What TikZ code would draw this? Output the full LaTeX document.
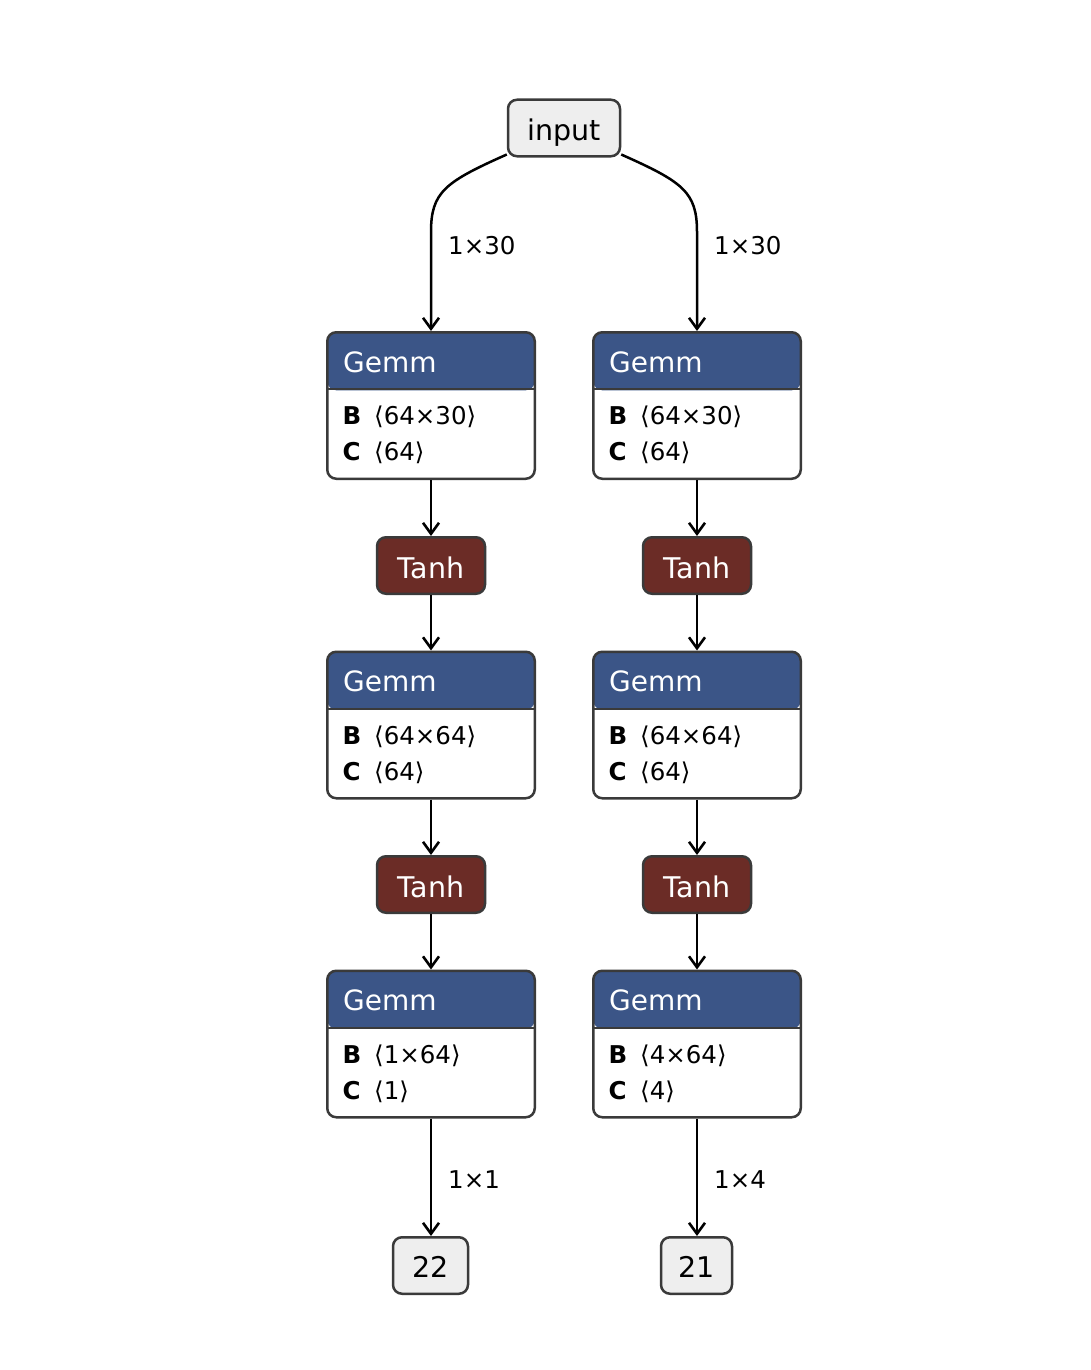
\documentclass[tikz,border=0pt]{standalone}
\usepackage{fontspec}
\setmainfont{DejaVu Sans}
\usetikzlibrary{arrows.meta,calc}
\definecolor{hdr}{RGB}{59,85,135}
\definecolor{act}{RGB}{107,44,38}
\definecolor{bd}{RGB}{58,58,58}
\definecolor{iofill}{RGB}{238,238,238}
\newcommand\gemmnode[5]{%
  \node[gemm] (#1) at (#2,#3) {};
  \draw[bd,line width=2pt] ([yshift=-58pt]#1.north west) -- ([yshift=-58pt]#1.north east);
  \node[ttl,text=white,anchor=base west] (#1t) at ($(#1.north west)+(17,41)$) {Gemm};
  \node[body,anchor=base west] (#1b) at ($(#1.north west)+(16.5,93.5)$) {\textbf{B}};
  \node[body,anchor=base west] (#1bv) at ($(#1.north west)+(48,93.5)$) {#4};
  \node[body,anchor=base west] (#1c) at ($(#1.north west)+(16.5,129.5)$) {\textbf{C}};
  \node[body,anchor=base west] (#1cv) at ($(#1.north west)+(48,129.5)$) {#5};
}
\begin{document}
\begin{tikzpicture}[x=1pt,y=-1pt,
  box/.style={draw=bd,line width=2.5pt,rounded corners=9pt,inner sep=0pt},
  gemm/.style={box,fill=white,minimum width=207.5pt,minimum height=146.5pt,
    path picture={\fill[hdr] (path picture bounding box.north west) rectangle ([yshift=-58pt]path picture bounding box.north east);}},
  ttl/.style={font=\fontsize{28}{32}\selectfont,inner sep=0pt},
  body/.style={font=\fontsize{24.5}{28}\selectfont,inner sep=0pt},
  lbl/.style={font=\fontsize{24.5}{28}\selectfont,inner sep=0pt,anchor=west},
  actn/.style={box,fill=act,text=white,font=\fontsize{28.5}{32}\selectfont,minimum width=108pt,minimum height=56.5pt,text height=25pt,text depth=0pt},
  ion/.style={box,fill=iofill,text=black,font=\fontsize{28.5}{32}\selectfont,minimum height=56.5pt,text height=24pt,text depth=0pt},
  edge/.style={draw=black,line width=2.5pt,-{Straight Barb[length=11pt,width=16pt,line width=2.6pt]}}
]
\useasboundingbox (0,0) rectangle (1090,1370);
\node[ion,minimum width=112pt] (in) at (564,128) {input};
\gemmnode{g1}{431}{405.5}{⟨64×30⟩}{⟨64⟩}
\gemmnode{g2}{697}{405.5}{⟨64×30⟩}{⟨64⟩}
\node[actn] (t1) at (431,565.5) {Tanh};
\node[actn] (t2) at (697,565.5) {Tanh};
\gemmnode{g3}{431}{725}{⟨64×64⟩}{⟨64⟩}
\gemmnode{g4}{697}{725}{⟨64×64⟩}{⟨64⟩}
\node[actn] (t3) at (431,884.5) {Tanh};
\node[actn] (t4) at (697,884.5) {Tanh};
\gemmnode{g5}{431}{1044}{⟨1×64⟩}{⟨1⟩}
\gemmnode{g6}{697}{1044}{⟨4×64⟩}{⟨4⟩}
\node[ion,minimum width=75pt] (o22) at (430.5,1265.5) {22};
\node[ion,minimum width=71pt] (o21) at (696.5,1265.5) {21};
% edges
\coordinate (sl) at ($(in.south west)+(0,-3)$);
\coordinate (sr) at ($(in.south east)+(0,-3)$);
\draw[edge] (sl) .. controls (445,182) and (431,192) .. (431,232) -- (g1.north);
\draw[edge] (sr) .. controls (683,182) and (697,192) .. (697,232) -- (g2.north);
\node[lbl] (l1) at (448,246) {1×30};
\node[lbl] (l2) at (714,246) {1×30};
\draw[edge] (g1.south) -- (t1.north);
\draw[edge] (g2.south) -- (t2.north);
\draw[edge] (t1.south) -- (g3.north);
\draw[edge] (t2.south) -- (g4.north);
\draw[edge] (g3.south) -- (t3.north);
\draw[edge] (g4.south) -- (t4.north);
\draw[edge] (t3.south) -- (g5.north);
\draw[edge] (t4.south) -- (g6.north);
\draw[edge] (g5.south) -- (g5.south |- o22.north);
\draw[edge] (g6.south) -- (g6.south |- o21.north);
\node[lbl] (l3) at (448,1180) {1×1};
\node[lbl] (l4) at (714,1180) {1×4};
\end{tikzpicture}
\end{document}
